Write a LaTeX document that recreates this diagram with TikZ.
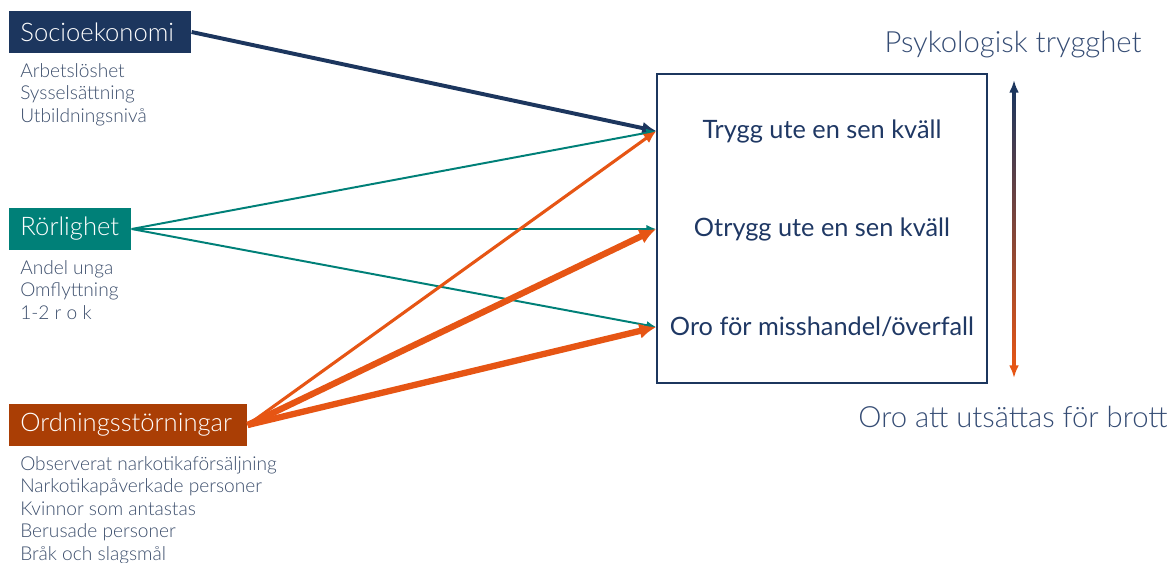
\documentclass[tikz,border=0pt]{standalone}
\usepackage{fontspec}
\setmainfont{Lato}[UprightFont=* Light]
\newfontfamily\regfont{Lato}
\usepackage{xcolor}
\usetikzlibrary{calc,arrows.meta,positioning}
\definecolor{navy}{RGB}{28,54,94}
\definecolor{tealc}{RGB}{0,128,120}
\definecolor{rust}{RGB}{170,62,5}
\definecolor{orangec}{RGB}{230,85,20}
\definecolor{subtext}{RGB}{60,78,108}
\definecolor{restext}{RGB}{31,56,100}

\begin{document}
\begin{tikzpicture}[x=0.025cm, y=-0.025cm,
      box/.style={anchor=west, text=white, inner xsep=0.28cm, minimum height=1.05cm, align=left, font=\fontsize{18.2}{21}\selectfont},
      sub/.style={anchor=north west, inner sep=0pt, align=left, text=subtext, font=\fontsize{13.6}{16}\selectfont},
      outtext/.style={text=restext, font=\regfont\fontsize{18}{21}\selectfont},
      scalelab/.style={text=restext!90!white, font=\fontsize{20.8}{24}\selectfont}]
    \useasboundingbox (0,0) rectangle (1169,562);
    \foreach \y/\lab/\grp/\col/\w/\items in {32/Socioekonomi/socio/navy/3.99cm/{Arbetslöshet\\Sysselsättning\\Utbildningsnivå},
                                              229/Rörlighet/rorl/tealc/2.49cm/{Andel unga\\Omflyttning\\1-2 r o k},
                                              425/Ordningsstörningar/ordn/rust/5.39cm/{Observerat narkotikaförsäljning\\Narkotikapåverkade personer\\Kvinnor som antastas\\Berusade personer\\Bråk och slagsmål}} {
      \node[box, fill=\col, text width=\w] (\grp) at (9,\y) {\lab};
      \node[sub] (\grp-sub) at (20,\y+31) {\items};
    }
    \node[draw=navy, line width=1pt, inner sep=0pt, minimum width=8.25cm, minimum height=7.725cm] (res) at (822,228.5) {};
    \node[outtext] (trygg) at (822,131) {Trygg ute en sen kväll};
    \node[outtext] (otrygg) at (822,229) {Otrygg ute en sen kväll};
    \node[outtext] (oro) at (822,327) {Oro för misshandel/överfall};
    \draw[navy, line width=2.8pt, -{Latex[length=10pt,width=9pt]}] (socio.east) -- (res.west |- trygg);
    \foreach \t in {trygg,otrygg,oro}
      \draw[tealc, line width=1.4pt, -{Latex[length=7pt,width=6pt]}] (rorl.east) -- (res.west |- \t);
    \draw[orangec, line width=2.2pt, -{Latex[length=9pt,width=8pt]}] (ordn.east) -- (res.west |- trygg);
    \foreach \t in {otrygg,oro}
      \draw[orangec, line width=4.5pt, -{Latex[length=12pt,width=11pt]}] (ordn.east) -- (res.west |- \t);
    % scale
    \coordinate (scale-top) at (1014,80);
    \coordinate (scale-bot) at (1014,378);
    \shade[top color=navy, bottom color=orangec] ($(scale-top)+(-1.5,10)$) rectangle ($(scale-bot)+(1.5,-10)$);
    \draw[navy, line width=2pt, -{Latex[length=9pt,width=7pt]}] ($(scale-top)+(0,14)$) -- (scale-top);
    \draw[orangec, line width=2pt, -{Latex[length=9pt,width=7pt]}] ($(scale-bot)+(0,-14)$) -- (scale-bot);
    \node[scalelab] (scale-hi) at (1013,45) {Psykologisk trygghet};
    \node[scalelab] (scale-lo) at (1013,417) {Oro att utsättas för brott};
  \end{tikzpicture}
\end{document}
